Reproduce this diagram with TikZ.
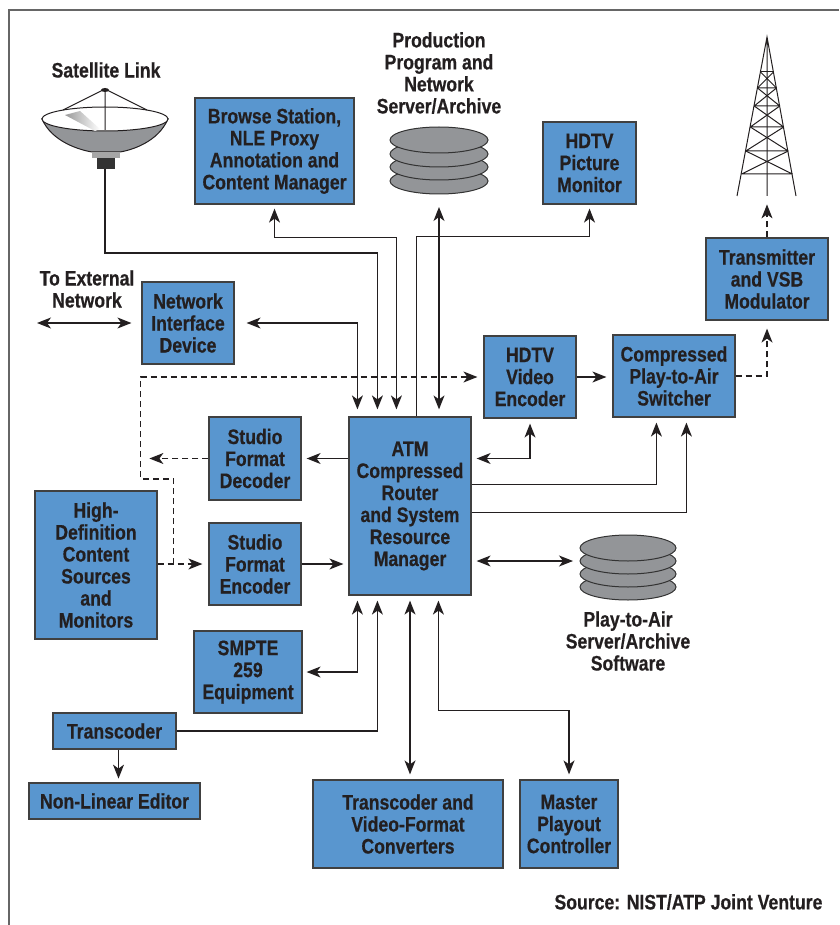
\documentclass[tikz,border=0pt]{standalone}
\usepackage{fontspec}
\setmainfont{Liberation Sans}[FakeStretch=0.84, FakeBold=0.5]
\usetikzlibrary{arrows.meta,calc}
\definecolor{boxblue}{RGB}{89,150,207}
\definecolor{diskgray}{RGB}{147,149,152}
\definecolor{inkgray}{RGB}{35,31,32}

\begin{document}
\begin{tikzpicture}[x=1pt, y=-1pt, line width=1.2pt, color=inkgray,
	every node/.style={font=\fontsize{21}{22}\selectfont\bfseries, text=inkgray, align=center, inner sep=0pt},
	>={Stealth[length=14pt, width=11pt, inset=4pt]},
	blk/.style={draw=black!75, fill=boxblue, line width=1.2pt},
	dsh/.style={dash pattern=on 6pt off 4pt},
	disk/.style={draw=black!80, fill=diskgray, line width=1pt}]
	\useasboundingbox (0,0) rectangle (839,925);
	\draw[black!60, line width=1.5pt] (839,10) -- (9,10) -- (9,925);

	% satellite dish
	\node (satlbl) at (106,70) {Satellite Link};
	\draw[line width=1pt, fill=diskgray] (42,119) .. controls (52,142) and (80,150) .. (92,152) -- (120,152) .. controls (132,150) and (158,142) .. (168,119) -- cycle;
	\draw[line width=1pt, fill=white] (105,119) ellipse (63pt and 12pt);
	\shade[left color=gray!80, right color=white] (65,115) -- (80,111) -- (100,129) -- (95,131) -- cycle;
	\draw[line width=1pt] (63,110) -- (105,89) -- (147,110) (105,89) -- (105,130);
	\fill (105,90) ellipse (4pt and 2pt);
	\fill[gray!70] (92,152) rectangle (120,158);
	\fill[black!80] (97,158) rectangle (115,169);
	\coordinate (satfeed) at (105,169);

	% broadcast tower
	\draw[line width=1pt] (737,196) -- (767,37) -- (796,196) (767,37) -- (767,196);
	\draw[line width=1pt] (760.5,72) -- (773.5,72);
	\foreach \ya/\wa/\yb/\wb in {72/6.5/88/9.5, 88/9.5/106/12.8, 106/12.8/127/16.7, 127/16.7/151/21.2, 151/21.2/174/25.4}
		\draw[line width=1pt] ({767-\wa},\ya) -- ({767+\wb},\yb) ({767+\wa},\ya) -- ({767-\wb},\yb) ({767-\wb},\yb) -- ({767+\wb},\yb);

	% disk stacks
	\node (prodlbl) at (439,73) {Production\\Program and\\Network\\Server/Archive};
	\foreach \y in {181,167,154,140}
		\draw[disk] (439,\y) ellipse (49pt and 13pt);
	\coordinate (proddisk) at (439,194);
	\foreach \y in {587,574,561,548}
		\draw[disk] (628,\y) ellipse (48pt and 13pt);
	\coordinate (ptadisk) at (580,561);
	\node (ptalbl) at (628,641) {Play-to-Air\\Server/Archive\\Software};

	% boxes
	\node[blk, minimum width=159pt, minimum height=106pt] (browse) at (274.5,151) {Browse Station,\\NLE Proxy\\Annotation and\\Content Manager};
	\node[blk, minimum width=93pt, minimum height=82pt] (monitor) at (589.5,163) {HDTV\\Picture\\Monitor};
	\node[blk, minimum width=122pt, minimum height=82pt] (xmtr) at (767,279) {Transmitter\\and VSB\\Modulator};
	\node (extlbl) at (87,289) {To External\\Network};
	\coordinate (extnet) at (37,323);
	\node[blk, minimum width=92pt, minimum height=82pt] (nid) at (188,323) {Network\\Interface\\Device};
	\node[blk, minimum width=92pt, minimum height=82pt] (hdenc) at (530,377) {HDTV\\Video\\Encoder};
	\node[blk, minimum width=122pt, minimum height=82pt] (switcher) at (674,376) {Compressed\\Play-to-Air\\Switcher};
	\node[blk, minimum width=122pt, minimum height=178pt] (atm) at (410,506) {ATM\\Compressed\\Router\\and System\\Resource\\Manager};
	\node[blk, minimum width=92pt, minimum height=83pt] (sfdec) at (255,458.5) {Studio\\Format\\Decoder};
	\node[blk, minimum width=92pt, minimum height=82pt] (sfenc) at (255,564) {Studio\\Format\\Encoder};
	\node[blk, minimum width=122pt, minimum height=148pt] (hdsrc) at (96,565) {High-\\Definition\\Content\\Sources\\and\\Monitors};
	\node[blk, minimum width=108pt, minimum height=82pt] (smpte) at (248,672) {SMPTE\\259\\Equipment};
	\node[blk, minimum width=123pt, minimum height=36pt] (transc) at (114.5,731) {Transcoder};
	\node[blk, minimum width=171pt, minimum height=36pt] (nle) at (114.5,801) {Non-Linear Editor};
	\node[blk, minimum width=190pt, minimum height=88pt] (conv) at (408,824) {Transcoder and\\Video-Format\\Converters};
	\node[blk, minimum width=98pt, minimum height=88pt] (master) at (569,824) {Master\\Playout\\Controller};
	\node[anchor=east] (source) at (823,902) {Source: NIST/ATP Joint Venture};

	% links into the router from above
	\draw[<->, shorten >=10pt] (extnet) -- (nid.west);
	\draw[<->, shorten <=12pt, shorten >=7pt] (nid.east) -| ($(atm.north west)+(9,0)$);
	\draw[->, shorten >=7pt] (satfeed) -- ++(0,84) -| ($(atm.north west)+(29,0)$);
	\draw[<->, shorten <=4pt, shorten >=7pt] (browse.south) -- ++(0,33) -| ($(atm.north west)+(48,0)$);
	\draw[->, shorten >=4pt] ($(atm.north west)+(68,0)$) -- ++(0,-180) -| (monitor.south);
	\draw[<->, shorten <=13pt, shorten >=7pt] (proddisk) -- (proddisk |- atm.north);

	% right side
	\draw[->, shorten >=6pt] (hdenc.east) -- (hdenc.east -| switcher.west);
	\draw[<->, shorten <=5pt, shorten >=5pt] (hdenc.south) |- (sfdec -| atm.east);
	\draw[->, shorten >=5pt] ($(atm.north east)+(0,68)$) -| ($(switcher.south west)+(44,0)$);
	\draw[->, shorten >=5pt] ($(atm.north east)+(0,96)$) -| ($(switcher.south west)+(74,0)$);
	\draw[<->, shorten <=5pt, shorten >=7pt] (atm.east |- ptadisk) -- (ptadisk);
	\draw[->, dsh, shorten >=8pt] (switcher.east) -| (xmtr.south);
	\draw[->, dsh] (xmtr.north) -- ++(0,-33);

	% left side
	\draw[->, shorten >=5pt] (sfdec -| atm.west) -- (sfdec.east);
	\draw[->, dsh] (sfdec.west) -- ++(-59,0);
	\draw[->, shorten >=5pt] (sfenc.east) -- (sfenc -| atm.west);
	\draw[->, dsh, shorten >=6pt] (hdsrc.east |- sfenc) -- (sfenc.west);
	\coordinate (fork) at ($(hdsrc.east |- sfenc)+(16,0)$);
	\draw[->, dsh, shorten >=6pt] (fork) -- ++(0,-85) -- ++(-33,0) |- (hdenc.west);

	% below the router
	\draw[<->, shorten <=5pt, shorten >=4pt] ($(atm.south west)+(9,0)$) |- (smpte.east);
	\draw[->, shorten >=5pt] (transc.east) -| ($(atm.south west)+(29,0)$);
	\draw[<->, shorten <=5pt, shorten >=5pt] (atm.south) -- (atm.south |- conv.north);
	\draw[<->, shorten <=5pt, shorten >=5pt] ($(atm.south west)+(90,0)$) -- ++(0,115) -| (master.north);
	\draw[->] ($(transc.south)+(4,0)$) -- ++(0,29);
\end{tikzpicture}
\end{document}
